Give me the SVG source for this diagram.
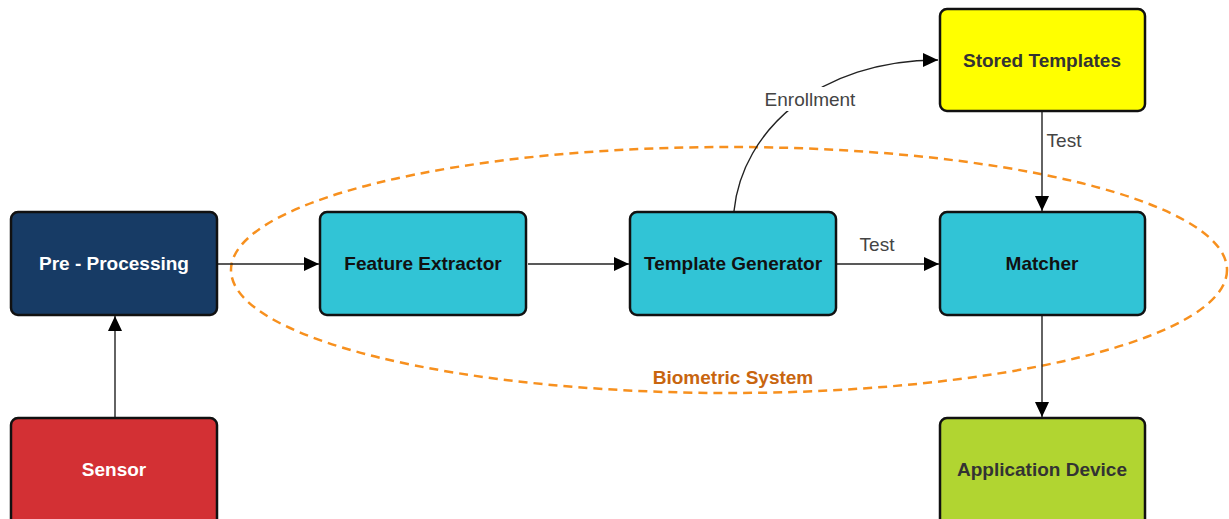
<svg xmlns="http://www.w3.org/2000/svg" width="1229" height="519" viewBox="0 0 1229 519">
  <defs>
    <marker id="arrow" viewBox="0 0 10 10" refX="10" refY="5" markerWidth="15" markerHeight="14" markerUnits="userSpaceOnUse" orient="auto" preserveAspectRatio="none">
      <path d="M0,0 L10,5 L0,10 z" fill="#000"/>
    </marker>
  </defs>
  <style>
    .box { stroke: #111; stroke-width: 2.5; }
    .label { font-family: "Liberation Sans", Arial, sans-serif; font-weight: bold; font-size: 19px; text-anchor: middle; dominant-baseline: central; }
    .edge { fill: none; stroke: #222; stroke-width: 1.4; }
    .elabel { font-family: "Liberation Sans", Arial, sans-serif; font-size: 19px; fill: #444; text-anchor: middle; dominant-baseline: central; }
  </style>
  <rect width="1229" height="519" fill="#fff"/>

  <!-- system boundary -->
  <g id="biometric-system">
    <ellipse cx="729" cy="270" rx="498" ry="123" fill="none" stroke="#f7901e" stroke-width="2.5" stroke-dasharray="9,6"/>
    <text x="733" y="377" class="label" font-size="18" fill="#c8650f">Biometric System</text>
  </g>

  <g id="connectors">
    <line class="edge" x1="115" y1="417" x2="115" y2="316" marker-end="url(#arrow)"/>
    <line class="edge" x1="218" y1="264" x2="319" y2="264" marker-end="url(#arrow)"/>
    <line class="edge" x1="528" y1="264" x2="629" y2="264" marker-end="url(#arrow)"/>
    <line class="edge" x1="837" y1="264" x2="939" y2="264" marker-end="url(#arrow)"/>
    <line class="edge" x1="1042" y1="112" x2="1042" y2="211" marker-end="url(#arrow)"/>
    <line class="edge" x1="1042" y1="316" x2="1042" y2="417" marker-end="url(#arrow)"/>
    <path class="edge" d="M734,211 C742,130 820,60 938,60" marker-end="url(#arrow)"/>
    <rect x="760" y="87" width="100" height="24" fill="#fff"/>
    <text x="810" y="99" class="elabel">Enrollment</text>
    <text x="1064" y="140" class="elabel">Test</text>
    <text x="877" y="244" class="elabel">Test</text>
  </g>

  <g id="pre-processing">
    <rect class="box" x="11" y="212" width="206" height="103" rx="7" fill="#173b65"/>
    <text x="114" y="263" class="label" fill="#fff">Pre - Processing</text>
  </g>
  <g id="sensor">
    <rect class="box" x="11" y="418" width="206" height="110" rx="7" fill="#d33034"/>
    <text x="114" y="469" class="label" fill="#fff">Sensor</text>
  </g>
  <g id="feature-extractor">
    <rect class="box" x="320" y="212" width="206" height="103" rx="7" fill="#31c4d6"/>
    <text x="423" y="263" class="label" fill="#111">Feature Extractor</text>
  </g>
  <g id="template-generator">
    <rect class="box" x="630" y="212" width="206" height="103" rx="7" fill="#31c4d6"/>
    <text x="733" y="263" class="label" fill="#111">Template Generator</text>
  </g>
  <g id="matcher">
    <rect class="box" x="940" y="212" width="205" height="103" rx="7" fill="#31c4d6"/>
    <text x="1042" y="263" class="label" fill="#111">Matcher</text>
  </g>
  <g id="stored-templates">
    <rect class="box" x="940" y="9" width="205" height="102" rx="7" fill="#ffff00"/>
    <text x="1042" y="60" class="label" fill="#333">Stored Templates</text>
  </g>
  <g id="application-device">
    <rect class="box" x="940" y="418" width="205" height="110" rx="7" fill="#b1d531"/>
    <text x="1042" y="469" class="label" fill="#333">Application Device</text>
  </g>
</svg>
